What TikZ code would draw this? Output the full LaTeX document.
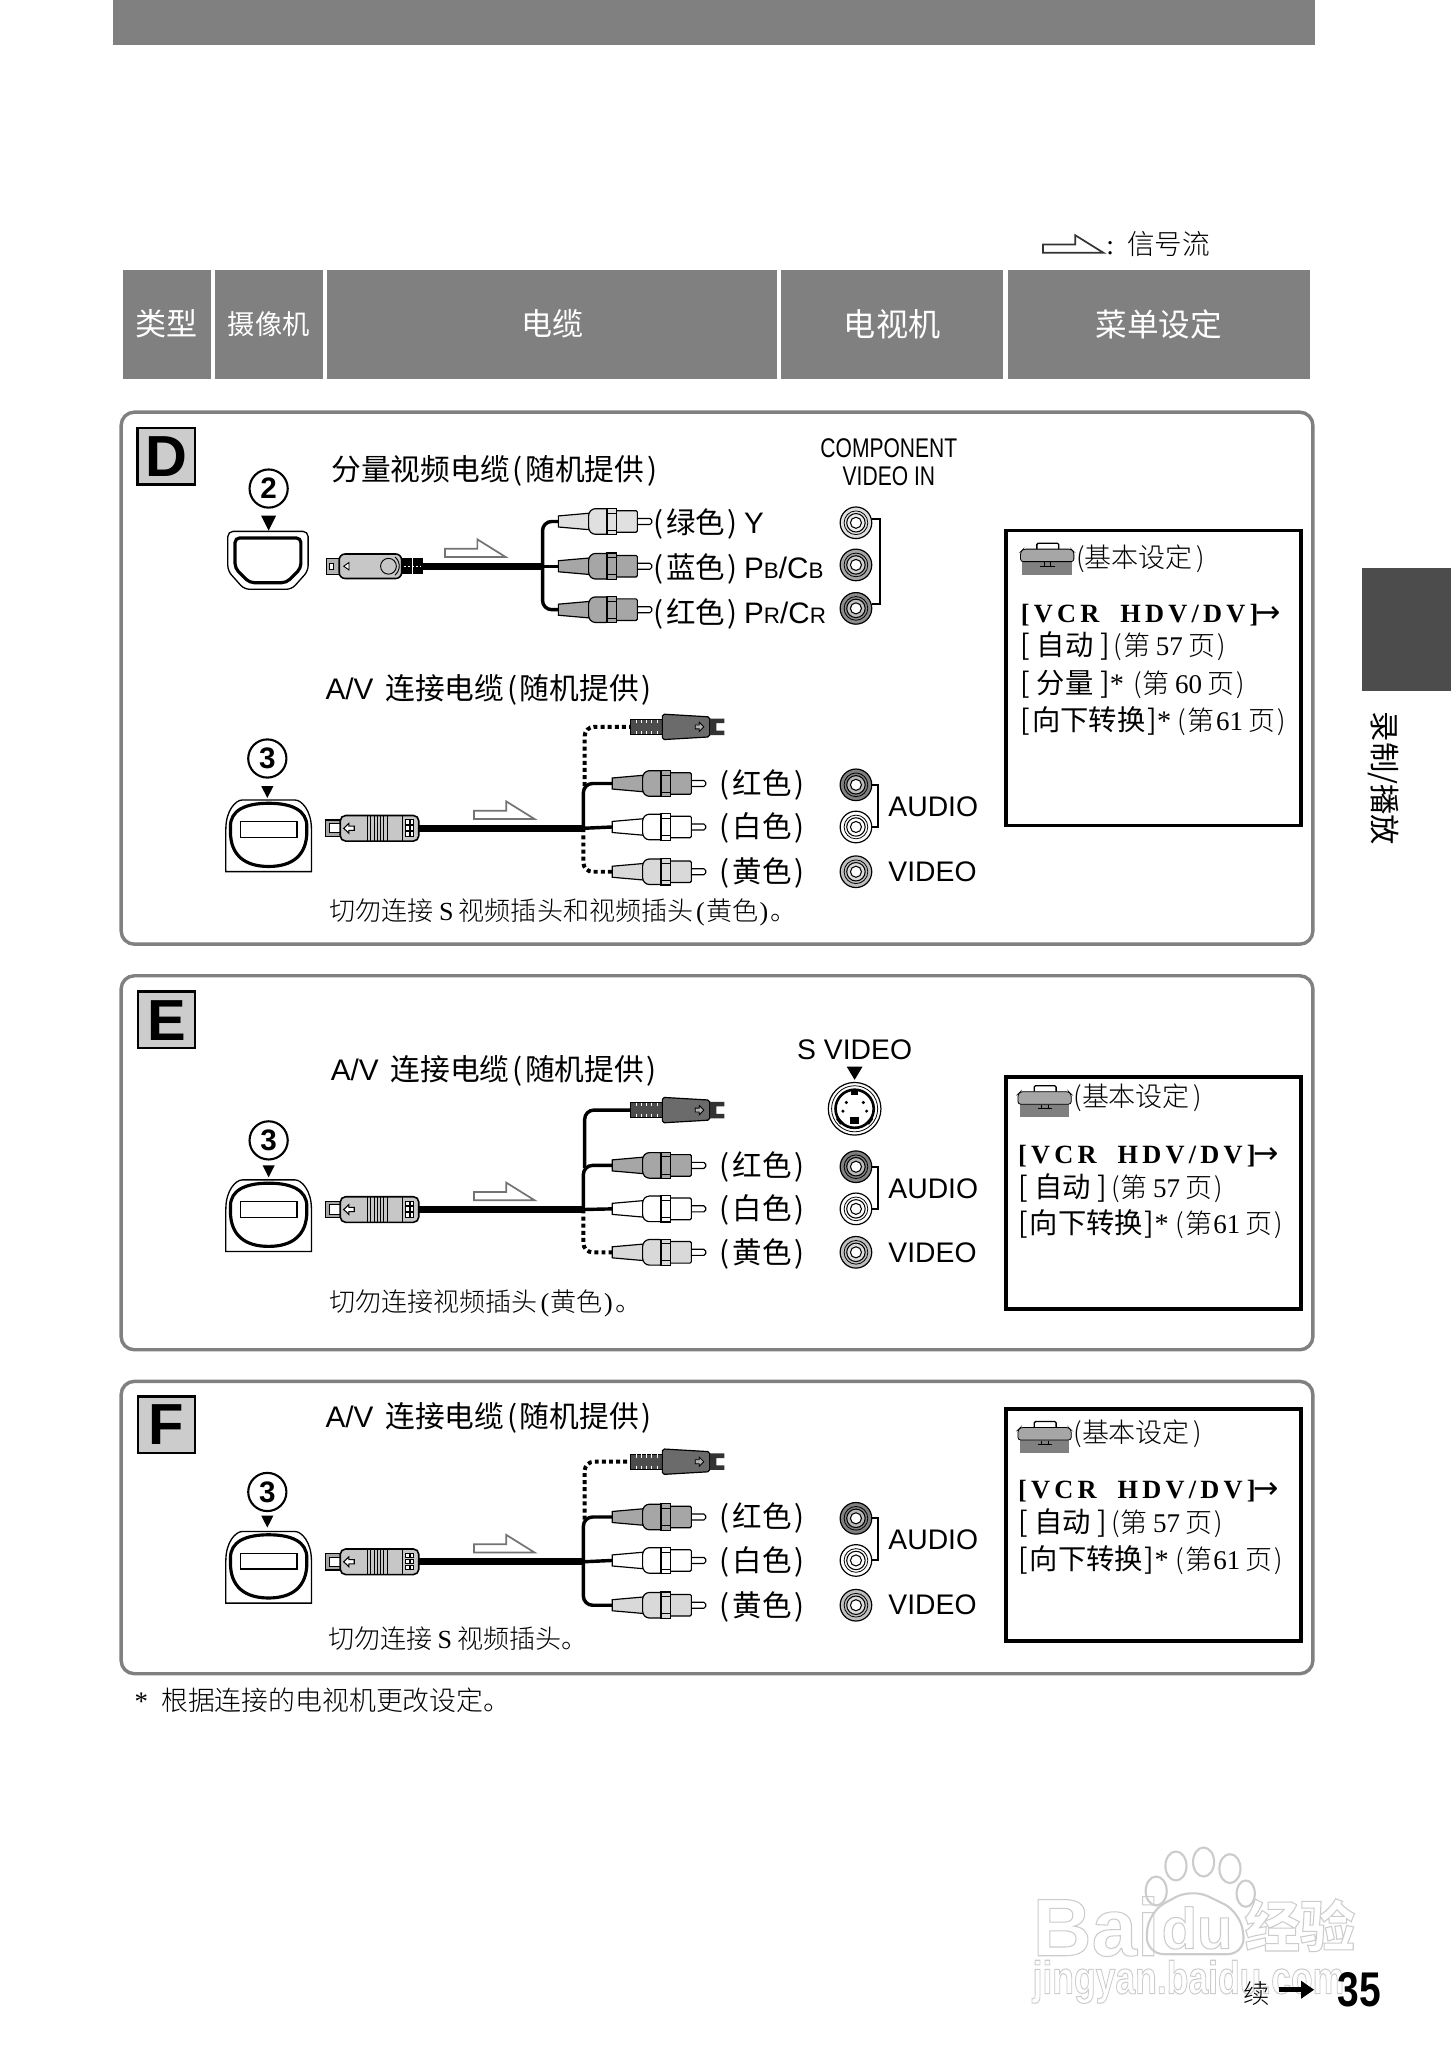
\documentclass[tikz,border=0pt]{standalone}
\usepackage{fontspec}
\usetikzlibrary{arrows.meta}
\setmainfont{Liberation Sans}
\newfontfamily\cjk{Noto Sans CJK SC}
\newfontfamily\cjkl{Noto Sans CJK SC Light}
\newfontfamily\ser{Liberation Serif}
\newfontfamily\dej{DejaVu Sans}
\newfontfamily\vcrf[LetterSpace=16]{Liberation Serif}
\newcommand{\fs}[1]{\fontsize{#1}{#1}\selectfont}
\newcommand{\lp}{\kern2pt(\kern2pt}
\newcommand{\rp}{\kern2pt)\kern2pt}
\definecolor{hdr}{HTML}{808080}
\definecolor{wm}{gray}{0.80}
\tikzset{
  x=1pt,y=-1pt,
  lbl/.style={inner sep=0,anchor=west,text=black},
  ctr/.style={inner sep=0,anchor=center,text=black},
  hd/.style={inner sep=0,anchor=center,text=white,font=\cjk\fs{23.6}},
  headcell/.style={fill=hdr,draw=none},
  section/.style={draw=hdr,line width=2.6pt,rounded corners=10pt,fill=white},
  setbox/.style={draw=black,line width=2.6pt,fill=white},
  lettbox/.style={draw=black,line width=1.8pt,fill=black!20},
  lett/.style={inner sep=0,anchor=center,font=\bfseries\fs{44}},
  cmain/.style={line width=5.6pt},
  cbr/.style={line width=2.6pt,rounded corners=7pt},
  cdot/.style={line width=3pt,dash pattern=on 3pt off 2.4pt,rounded corners=7pt},
  brk/.style={line width=1.5pt},
  pl/.style={line width=0.9pt,draw=black},
  pics/flow/.style={code={
    \coordinate (-o) at (0,0);
    \draw[draw=#1,line width=1.3pt,fill=white,line join=miter]
      (0,0)--(0,-6.3)--(24.5,-6.3)--(24.5,-13.4)--(46,0)--cycle;}},
  pics/rcaplug/.style={code={
    \coordinate (-w) at (0,0);
    \draw[pl,fill=white,rounded corners=1.5pt] (58,-2.3)--(71,-2.3)--(71,2.3)--(58,2.3)--cycle;
    \draw[pl,fill=#1] (0,-4.2)--(24,-6.3)--(24,6.3)--(0,4.2)--cycle;
    \draw[pl,fill=#1,rounded corners=2pt] (23,-6.5)--(26,-9.7)--(38,-9.7)--(38,9.7)--(26,9.7)--(23,6.5)--cycle;
    \draw[pl,fill=#1,rounded corners=1pt] (43,-8.2)--(60,-8.2)--(60,8.2)--(43,8.2)--cycle;
    \draw[pl,fill=#1] (37,-10)--(44,-10)--(44,10)--(37,10)--cycle;
    \draw[line width=0.6pt] (37,-6.5)--(44,-6.5) (37,6.5)--(44,6.5);}},
  pics/avplug/.style={code={
    \coordinate (-e) at (71,0);
    \draw[pl,fill=black!35] (0,-6.3)--(12,-6.3)--(12,6.3)--(0,6.3)--cycle;
    \draw[line width=0.8pt,fill=white] (12,-3.5)--(3,-3.5)--(3,3.5)--(12,3.5);
    \draw[line width=1.2pt,fill=black!22,rounded corners=4pt] (11.4,-9.7)--(71,-9.7)--(71,9.7)--(11.4,9.7)--cycle;
    \draw[line width=0.8pt,fill=white] (14,0)--(18,-3.8)--(18,-1.6)--(22,-1.6)--(22,1.6)--(18,1.6)--(18,3.8)--cycle;
    \foreach \vx in {32,34.5,37,39.5,42,44.5,47}{\draw[line width=0.7pt] (\vx,-9.7)--(\vx,9.7);}
    \draw[line width=0.7pt] (59,-9.7)--(59,9.7);
    \foreach \vx in {61,64.5}{\foreach \vy in {-6.5,-2,2.5}{\draw[line width=0.6pt,fill=white] (\vx,\vy) rectangle ++(2.8,3.5);}}}},
  pics/compplug/.style={code={
    \coordinate (-e) at (73,0);
    \draw[pl,fill=black!30] (0,-6)--(10,-6)--(10,6)--(0,6)--cycle;
    \draw[line width=0.7pt,fill=white] (2.2,-2.4) rectangle (5.4,2.4);
    \fill[black] (56,-6.2) rectangle (73,6.2);
    \draw[pl,line width=1.2pt,fill=black!22,rounded corners=4.5pt] (9.6,-9.3)--(57,-9.3)--(57,9.3)--(9.6,9.3)--cycle;
    \draw[line width=0.7pt,fill=white] (13,0)--(17,-2.8)--(17,2.8)--cycle;
    \draw[line width=0.7pt,fill=black!22] (47,0) circle (6);
    \draw[line width=0.7pt] (52,-7) arc[start angle=-50,end angle=50,radius=9];
    \draw[white,line width=0.8pt,dash pattern=on 1.5pt off 1.5pt] (59,0)--(72,0);
    \draw[white,line width=0.8pt] (65,-6)--(65,6);}},
  pics/splug/.style={code={
    \coordinate (-w) at (0,0);
    \draw[pl,fill=black!70] (0,-5.7)--(25,-5.7)--(25,5.7)--(0,5.7)--cycle;
    \foreach \vx in {4,8,12,16,20}{\draw[white,line width=0.6pt] (\vx,3)--(\vx,5.5);\draw[white,line width=0.6pt] (\vx,-5.5)--(\vx,-3);}
    \draw[pl,fill=black!58,rounded corners=1.5pt] (24,-9.7)--(60,-7.6)--(60,7.6)--(24,9.7)--cycle;
    \draw[line width=0.6pt,fill=black!30] (49,-1.5)--(52,-1.5)--(52,-3.5)--(55.5,0)--(52,3.5)--(52,1.5)--(49,1.5)--cycle;
    \fill[black!80] (60,-6.3)--(71,-6.3)--(71,-2.8)--(65,-2.8)--(65,2.8)--(71,2.8)--(71,6.3)--(60,6.3)--cycle;}},
  pics/jack/.style={code={
    \coordinate (-c) at (0,0);
    \colorlet{jkcol}{#1}
    \draw[pl,fill=jkcol] (0,0) circle (12);
    \draw[line width=0.6pt,fill=jkcol] (0,0) circle (9);
    \draw[line width=0.8pt,fill=jkcol!55!white] (0,0) circle (7);
    \draw[line width=0.8pt,fill=white] (0,0) circle (4.2);}},
  pics/sjack/.style={code={
    \draw[line width=0.9pt,fill=white] (0,0) circle (20);
    \draw[line width=0.6pt] (0,0) circle (17.5);
    \draw[line width=2pt,fill=white] (0,0) circle (14.5);
    \foreach \dx/\dy in {-6.3/-4.8,6.6/-4.8,-8.9/1.8,9.1/1.8}{\fill (\dx,\dy) circle (1.3);}
    \fill (-2.5,-14) rectangle (2.5,-10.5);
    \fill (-3.4,6.3) rectangle (3.4,11.4);
    \fill (-13,6)--(-8,11)--(-11,12)--(-14,8)--cycle;
    \fill (13,6)--(8,11)--(11,12)--(14,8)--cycle;}},
  pics/portcam/.style={code={
    \draw[line width=1pt,fill=white,rounded corners=4pt] (-30.5,-22)--(30.5,-22)--(30.5,8)--(18,22)--(-18,22)--(-30.5,8)--cycle;
    \draw[line width=2.4pt,rounded corners=3.5pt] (-25,-17)--(25,-17)--(25,6)--(14,17)--(-14,17)--(-25,6)--cycle;}},
  pics/porttv/.style={code={
    \draw[line width=1pt,fill=white] (-32.5,54.4)--(-32.5,22) .. controls (-32.5,8) and (-25,0) .. (-20,0)--(20,0) .. controls (25,0) and (32.5,8) .. (32.5,22)--(32.5,54.4)--cycle;
    \draw[line width=2.4pt,fill=white] (-29,20) .. controls (-29,8) and (-18,2.5) .. (0,2.5) .. controls (18,2.5) and (29,8) .. (29,20) -- (29,24) .. controls (29,42) and (18,50.5) .. (0,50.5) .. controls (-18,50.5) and (-29,42) .. (-29,24) -- cycle;
    \draw[line width=0.9pt,fill=white] (-21.5,16.5) rectangle (21.5,28.5);}},
  pics/toolbox/.style={code={
    \draw[line width=1pt,rounded corners=1pt] (12.4,5)--(12.4,0.5)--(29,0.5)--(29,5);
    \fill[black!50] (1.3,14) rectangle (39,24.5);
    \draw[line width=0.6pt,fill=black!35,rounded corners=2pt] (0,14.5)--(0,7)--(2,5)--(38.5,5)--(40.5,7)--(40.5,14.5)--cycle;
    \draw[line width=0.6pt] (15,18) -- (26,18) (18,15)--(18,18) (23,15)--(23,18);}},
  pics/numtwo/.style={code={
    \node[draw,circle,line width=1.6pt,minimum size=29pt,inner sep=0,font=\bfseries\fs{22.5}] (-n) at (0,0) {2};
    \fill (-5.7,20.5)--(5.7,20.5)--(0,32)--cycle;}},
  pics/numthree/.style={code={
    \node[draw,circle,line width=1.6pt,minimum size=29pt,inner sep=0,font=\bfseries\fs{22.5}] (-n) at (0,0) {3};
    \fill (-4.6,#1)--(4.6,#1)--(0,#1+9)--cycle;}}
}
\newcommand{\avgroup}[9]{%
  % #1 prefix, #2 plug y, #3 S y, #4 red y, #5 white y, #6 yellow y, #7 top style, #8 yellow style, #9 port top y
  \pic (#1p) at (204,#9) {porttv};
  \pic (#1a) at (247,#2) {avplug};
  \pic (#1f) at (360,#2-7) {flow=black!55};
  \coordinate (#1j) at (443,#2);
  \pic (#1s) at (479,#3) {splug};
  \pic (#1r) at (465,#4) {rcaplug=black!35};
  \pic (#1w) at (465,#5) {rcaplug=white};
  \pic (#1y) at (465,#6) {rcaplug=black!15};
  \coordinate (#1t) at (444,#4+2);
  \draw[#7] (#1t) |- (#1s-w);
  \draw[#8] (#1j) |- (#1y-w);
  \draw[cbr] (#1j) |- (#1r-w);
  \draw[cbr] (#1j) -- (#1w-w);
  \draw[cmain] (#1a-e) -- (#1j);
  \node[lbl,font=\cjk\fs{22.4}] (#1lr) at (544.5,#4+1) {\lp 红色\rp};
  \node[lbl,font=\cjk\fs{22.4}] (#1lw) at (544.5,#5+1) {\lp 白色\rp};
  \node[lbl,font=\cjk\fs{22.4}] (#1ly) at (544.5,#6+1) {\lp 黄色\rp};
  \pic (#1jr) at (650,#4+1) {jack=black!50};
  \pic (#1jw) at (650,#5) {jack=white};
  \pic (#1jy) at (650,#6) {jack=black!25};
  \draw[brk] (#1jr-c) ++(12,0) -- ++(5,0) |- ([xshift=12pt]#1jw-c);
  \node[lbl,font=\fs{21.5}] (#1au) at (674.5,{(#4+#5)/2+1}) {AUDIO};
  \node[lbl,font=\fs{21.5}] (#1vi) at (674.5,#6) {VIDEO};
}
\newcommand{\pagep}[1]{{\cjkl\fs{20.5}(\kern1pt 第\kern#1pt}}
\newcommand{\pagew}{{\cjkl\fs{20.5}\kern4pt 页\kern1.5pt)}}
\newcommand{\setlines}[7]{%
  % #1 prefix, #2 left x, #3 icon y, #4 caption y, #5 vcr y, #6 auto y, #7 downconv y
  \pic (#1i) at (#2,#3) {toolbox};
  \node[lbl,font=\cjkl\fs{20.5}] (#1c) at ({#2+42},#4+1) {(基本设定\kern3pt)};
  \node[lbl,font=\vcrf\bfseries\fs{20}] (#1v) at (#2,#5) {[VCR\kern16pt HDV/DV]{\dej\mdseries\fs{23}\kern-2pt→}};
  \node[lbl,font=\cjk\fs{21.5}] (#1a) at (#2,#6) {[\kern5pt 自动\kern5pt]\kern3pt\pagep{4}{\ser\fs{20.5}57}\pagew};
  \node[lbl,font=\cjk\fs{21.5}] (#1d) at (#2,#7) {[\kern1.5pt 向下转换\kern1.5pt]{\ser *}\kern5pt\pagep{1}{\ser\fs{20.5}61}\pagew};
}
% pale outlined text (stroked, not filled)
\newcommand{\hollow}[1]{\special{pdf:code 1 Tr 0.8 w}#1\special{pdf:code 0 Tr}}
\begin{document}
\begin{tikzpicture}
\useasboundingbox (0,0) rectangle (1102,1567.4);
\fill[white] (0,0) rectangle (1102,1567.4);
% watermark
\foreach \tx/\ty/\rx/\ry in {878/1436/8/11,893/1417/8/11,914/1414/8/11,934/1419/8/11,946/1438/7/10}{\draw[wm,line width=1.6pt,fill=white] (\tx,\ty) ellipse[x radius=\rx,y radius=\ry];}
\draw[wm,line width=1.6pt,fill=white,rounded corners=14pt] (870,1484)--(872,1452)--(905,1434)--(942,1452)--(946,1484)--cycle;
\node[lbl,text=wm,font=\bfseries\fs{62}] (wma) at (784,1463) {\hollow{Bai}};
\node[lbl,text=wm,font=\bfseries\fs{44}] (wmb) at (882,1464) {\hollow{du}};
\node[lbl,text=wm,font=\cjk\bfseries\fs{42}] (wmc) at (945,1462) {\hollow{经验}};
\node[lbl,text=wm,font=\bfseries\fs{35},xscale=0.77] (wmd) at (784,1505) {\hollow{jingyan.baidu.com}};
% top
\fill[hdr] (86,0) rectangle (998.5,34);
\pic (legf) at (792,192) {flow=black!80};
\node[lbl,font=\cjkl\fs{21}] (legt) at (840,185) {{\ser :}\kern10pt 信号流};
% header
\fill[headcell] (93.5,205) rectangle (160,288);
\fill[headcell] (163,205) rectangle (245.5,288);
\fill[headcell] (248.5,205) rectangle (590,288);
\fill[headcell] (593,205) rectangle (762,288);
\fill[headcell] (765.5,205) rectangle (995,288);
\node[hd] (h1) at (126.5,246) {类型};
\node[hd,font=\cjk\fs{20.7}] (h2) at (204,246) {摄像机};
\node[hd] (h3) at (419.5,246) {电缆};
\node[hd,font=\cjk\fs{24.4}] (h4) at (677.5,246) {电视机};
\node[hd,font=\cjk\fs{24}] (h5) at (880,246) {菜单设定};
% section frames
\draw[section] (92,313) rectangle (997,717);
\draw[section] (92,741) rectangle (997,1025);
\draw[section] (92,1049) rectangle (997,1271);
% section letters
\draw[lettbox] (104.5,325) rectangle (148,368);
\node[lett] (ld) at (126.5,347) {D};
\draw[lettbox] (105,753) rectangle (148,796);
\node[lett] (le) at (126.5,775) {E};
\draw[lettbox] (105,1060.5) rectangle (148,1103.5);
\node[lett] (lf) at (126.5,1082) {F};
% D upper
\pic (dn2) at (204,371) {numtwo};
\pic (dpc) at (203.5,425.5) {portcam};
\node[lbl,font=\cjk\fs{22.6}] (dt1) at (251.5,357.5) {分量视频电缆\lp 随机提供\rp};
\pic (dc) at (248,430) {compplug};
\pic (dcf) at (338,423) {flow=black!55};
\coordinate (dcj) at (412,430);
\pic (dcg) at (424,396) {rcaplug=black!12};
\pic (dcb) at (424,430) {rcaplug=black!35};
\pic (dcr) at (424,463) {rcaplug=black!35};
\draw[cbr] (dcj) |- (dcg-w);
\draw[cbr] (dcj) |- (dcr-w);
\draw[cbr] (dcj) -- (dcb-w);
\draw[cmain] (dc-e) -- (dcj);
\node[lbl,font=\cjk\fs{22.4}] (dlg) at (494,398) {\lp 绿色\rp{\rmfamily\fs{22.5}\kern3pt Y}};
\node[lbl,font=\cjk\fs{22.4}] (dlb) at (494,432) {\lp 蓝色\rp{\rmfamily\fs{22.5}\kern3pt P{\fs{17}B}/C{\fs{17}B}}};
\node[lbl,font=\cjk\fs{22.4}] (dlr) at (494,466) {\lp 红色\rp{\rmfamily\fs{22.5}\kern3pt P{\fs{17}R}/C{\fs{17}R}}};
\node[ctr,font=\fs{20.5},xscale=0.78] (dcn1) at (675,340.5) {COMPONENT};
\node[ctr,font=\fs{20.5},xscale=0.78] (dcn2) at (675,361.5) {VIDEO IN};
\pic (dj1) at (650,397) {jack=black!12};
\pic (dj2) at (650,429) {jack=black!35};
\pic (dj3) at (650,462) {jack=black!45};
\draw[brk] ([xshift=12pt]dj1-c) ++(0,-3) -- ++(6,0) |- ([xshift=12pt,yshift=3pt]dj3-c);
% D lower
\node[lbl,font=\cjk\fs{22.6}] (dt2) at (247,524) {{\rmfamily A/V\kern4pt} 连接电缆\lp 随机提供\rp};
\pic (dn3) at (203,576) {numthree=21};
\avgroup{d}{629}{552}{595}{628}{662}{cdot}{cdot}{607.5}
\node[lbl,font=\cjkl\fs{19.8}] (dn) at (250,692.5) {切勿连接\kern4pt{\ser S}\kern4pt 视频插头和视频插头{\ser\kern2pt(}\kern1pt 黄色\kern1pt{\ser )\kern2pt}。};
\draw[setbox] (764,403) rectangle (988,627);
\setlines{dx}{775}{412}{423}{467}{491}{548}
\node[lbl,font=\cjk\fs{21.5}] (dxm) at (775,520) {[\kern5pt 分量\kern5pt]{\ser *}\kern7pt\pagep{4}{\ser\fs{20.5}60}\pagew};
% E
\node[lbl,font=\cjk\fs{22.6}] (et) at (251,813) {{\rmfamily A/V\kern4pt} 连接电缆\lp 随机提供\rp};
\pic (en3) at (204,866) {numthree=19};
\avgroup{e}{918.5}{843}{885}{918}{951}{cbr}{cdot}{896}
\node[ctr,font=\fs{21.5}] (esv) at (649,797) {S VIDEO};
\fill (643,810)--(655,810)--(649,820)--cycle;
\pic (esj) at (649,842) {sjack};
\node[lbl,font=\cjkl\fs{19.8}] (en) at (250,989.5) {切勿连接视频插头{\ser\kern2pt(}\kern1pt 黄色\kern1pt{\ser )\kern2pt}。};
\draw[setbox] (764,818) rectangle (988,994);
\setlines{ex}{773}{824}{833}{878}{902}{930}
% F
\node[lbl,font=\cjk\fs{22.6}] (ft) at (247,1077) {{\rmfamily A/V\kern4pt} 连接电缆\lp 随机提供\rp};
\pic (fn3) at (203,1133) {numthree=18};
\avgroup{f}{1186}{1110}{1152}{1185}{1219}{cdot}{cbr}{1163}
\node[lbl,font=\cjkl\fs{19.8}] (fn) at (249,1244.5) {切勿连接\kern4pt{\ser S}\kern4pt 视频插头。};
\draw[setbox] (764,1070) rectangle (988,1246);
\setlines{fx}{773}{1079}{1088}{1132}{1157}{1185}
% footnote
\node[lbl,font=\cjkl\fs{20.4}] (foot) at (102,1291.5) {{\ser *}\kern10pt 根据连接的电视机更改设定。};
% tab
\fill[black!70] (1034,431) rectangle (1102,525);
\node[ctr,rotate=-90,font=\cjk\fs{23}] (tabt) at (1051,591) {录制/播放};
% page number
\node[ctr,font=\cjkl\fs{20}] (cont) at (954,1514) {续};
\coordinate (ca) at (971,1511);
\coordinate (cb) at (998,1511);
\draw[line width=4pt,-{Triangle[width=13pt,length=10pt]}] (ca) -- (cb);
\node[ctr,font=\bfseries\fs{37},xscale=0.8] (pg) at (1032.5,1511) {35};
\end{tikzpicture}
\end{document}
